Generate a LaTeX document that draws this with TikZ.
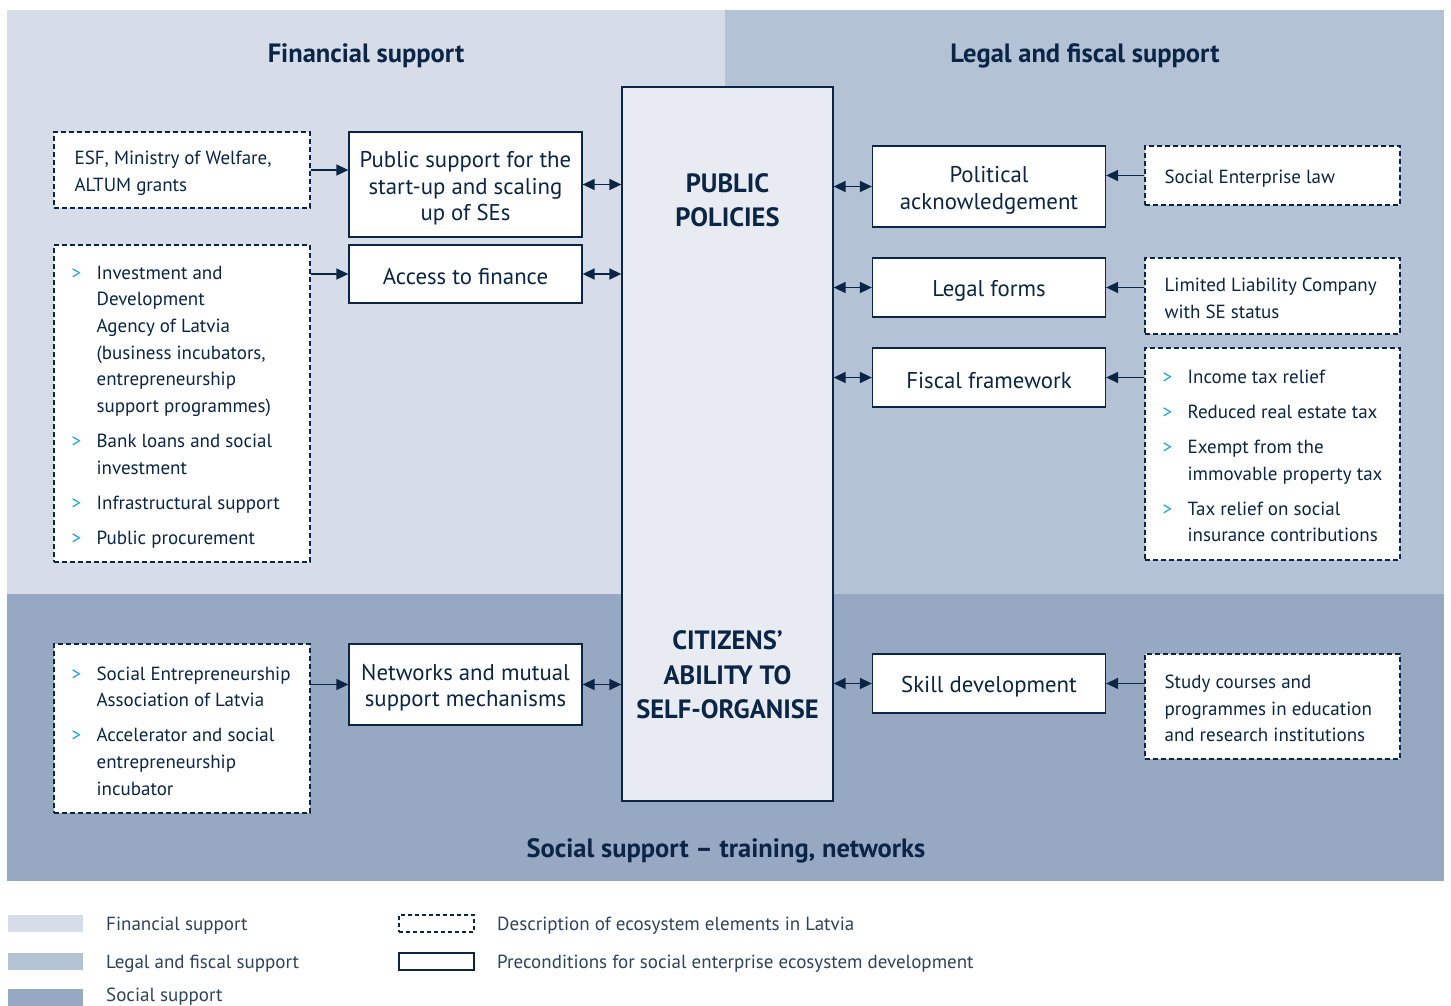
\documentclass[tikz,border=0pt]{standalone}
\usepackage{fontspec}
\setmainfont{PT Sans}
\usetikzlibrary{arrows.meta}
\definecolor{navy}{HTML}{0A2546}
\definecolor{finbg}{HTML}{D6DDE8}
\definecolor{legbg}{HTML}{B4C2D6}
\definecolor{socbg}{HTML}{97A8C3}
\definecolor{corefill}{HTML}{E8EBF1}
\definecolor{chev}{HTML}{1EA0DC}
\definecolor{legtext}{HTML}{2E425E}
\newcommand\boxfont{\fontsize{22.8}{26.6}\selectfont}
\newcommand\descfont{\fontsize{19}{26.6}\selectfont}
\newcommand\titlefont{\fontsize{26.5}{30}\selectfont\bfseries}
\newcommand\corefont{\fontsize{26.5}{34.5}\selectfont\bfseries}
\newcommand\bul{\makebox[25pt][l]{\textcolor{chev}{>}}}
\newcommand\ind{\hspace*{25pt}}
\begin{document}
\begin{tikzpicture}[x=1pt,y=-1pt,
  solidbox/.style={draw=navy, fill=white, line width=1.3pt, minimum width=233pt, inner sep=0pt},
  boxtext/.style={font=\boxfont, text=navy, align=center, inner sep=0pt},
  descframe/.style={draw=navy, fill=white, line width=1.2pt, dash pattern=on 5pt off 3pt, minimum width=256pt, inner sep=0pt},
  desctext/.style={font=\descfont, text=navy, align=left, anchor=west, inner sep=0pt},
  arr/.style={draw=navy, line width=1.5pt, -{Triangle[length=12pt,width=11pt]}},
  darr/.style={draw=navy, line width=1.5pt, {Triangle[length=12pt,width=11pt]}-{Triangle[length=12pt,width=11pt]}},
  title/.style={font=\titlefont, text=navy, inner sep=0pt},
  legtxt/.style={font=\descfont, text=legtext, anchor=west, inner sep=0pt}]
\useasboundingbox (0,0) rectangle (1451,1006);
% backgrounds
\fill[finbg] (7,10) rectangle (725,594);
\fill[legbg] (725,10) rectangle (1444,594);
\fill[socbg] (7,594) rectangle (1444,881);
% titles
\node[title] (tfin) at (366,56) {Financial support};
\node[title] (tleg) at (1085,56) {Legal and fiscal support};
\node[title] (tsoc) at (726,851) {Social support -- training, networks};
% core
\node[draw=navy, fill=corefill, line width=1.3pt, minimum width=211pt, minimum height=714pt, inner sep=0pt] (core) at (727.5,444) {};
\node[font=\corefont, text=navy, align=center] (pp) at (727.5,200) {PUBLIC\\POLICIES};
\node[font=\corefont, text=navy, align=center] (cit) at (727.5,675) {CITIZENS’\\ABILITY TO\\SELF-ORGANISE};
% solid boxes
\node[solidbox, minimum height=105pt] (pub) at (465.5,184.5) {};
\node[solidbox, minimum height=58pt] (acc) at (465.5,274) {};
\node[solidbox, minimum height=81pt] (net) at (465.5,684.5) {};
\node[solidbox, minimum height=81pt] (pol) at (989,186.5) {};
\node[solidbox, minimum height=59pt] (lf) at (989,287.5) {};
\node[solidbox, minimum height=59pt] (ff) at (989,377.5) {};
\node[solidbox, minimum height=59pt] (sk) at (989,683.5) {};
\node[boxtext] (pubt) at ([yshift=-4pt]pub.center) {Public support for the\\start-up and scaling\\up of SEs};
\node[boxtext] (acct) at ([yshift=-3pt]acc.center) {Access to finance};
\node[boxtext] (nett) at ([yshift=-3pt]net.center) {Networks and mutual\\support mechanisms};
\node[boxtext] (polt) at ([yshift=-4pt]pol.center) {Political\\acknowledgement};
\node[boxtext] (lft) at ([yshift=-3pt]lf.center) {Legal forms};
\node[boxtext] (fft) at ([yshift=-3pt]ff.center) {Fiscal framework};
\node[boxtext] (skt) at ([yshift=-3pt]sk.center) {Skill development};
% description boxes (frames)
\node[descframe, minimum height=76pt] (esf) at (182,170) {};
\node[descframe, minimum height=317pt] (idl) at (182,403.5) {};
\node[descframe, minimum height=169pt] (sea) at (182,728.5) {};
\node[descframe, minimum width=255pt, minimum height=59pt] (sel) at (1272.5,175.5) {};
\node[descframe, minimum width=255pt, minimum height=76pt] (llc) at (1272.5,296) {};
\node[descframe, minimum width=255pt, minimum height=212pt] (tax) at (1272.5,454) {};
\node[descframe, minimum width=255pt, minimum height=105pt] (stu) at (1272.5,706.5) {};
% description texts
\node[desctext] (esft) at ([xshift=21pt,yshift=-3pt]esf.west) {ESF, Ministry of Welfare,\\ALTUM grants};
\node[desctext] (idlt) at ([xshift=18pt,yshift=-3.5pt]idl.west) {\bul Investment and\\\ind Development\\\ind Agency of Latvia\\\ind (business incubators,\\\ind entrepreneurship\\\ind support programmes)\\[8.5pt]\bul Bank loans and social\\\ind investment\\[8.5pt]\bul Infrastructural support\\[8.5pt]\bul Public procurement};
\node[desctext] (seat) at ([xshift=18pt,yshift=-2.5pt]sea.west) {\bul Social Entrepreneurship\\\ind Association of Latvia\\[8.5pt]\bul Accelerator and social\\\ind entrepreneurship\\\ind incubator};
\node[desctext] (selt) at ([xshift=20pt,yshift=-3pt]sel.west) {Social Enterprise law};
\node[desctext] (llct) at ([xshift=20pt,yshift=-2.5pt]llc.west) {Limited Liability Company\\with SE status};
\node[desctext] (taxt) at ([xshift=18pt,yshift=-2pt]tax.west) {\bul Income tax relief\\[8.5pt]\bul Reduced real estate tax\\[8.5pt]\bul Exempt from the\\\ind immovable property tax\\[8.5pt]\bul Tax relief on social\\\ind insurance contributions};
\node[desctext] (stut) at ([xshift=20pt,yshift=-2pt]stu.west) {Study courses and\\programmes in education\\and research institutions};
% arrows
\draw[arr] (esf.east) -- (esf.east -| pub.west);
\draw[arr] (idl.east |- acc) -- (acc.west);
\draw[arr] (sea.east |- net) -- (net.west);
\draw[arr] (sel.west) -- (sel.west -| pol.east);
\draw[arr] (llc.west |- lf) -- (lf.east);
\draw[arr] (tax.west |- ff) -- (ff.east);
\draw[arr] (stu.west |- sk) -- (sk.east);
\draw[darr] (pub.east) -- (pub.east -| core.west);
\draw[darr] (acc.east) -- (acc.east -| core.west);
\draw[darr] (net.east) -- (net.east -| core.west);
\draw[darr] (core.east |- pol) -- (pol.west);
\draw[darr] (core.east |- lf) -- (lf.west);
\draw[darr] (core.east |- ff) -- (ff.west);
\draw[darr] (core.east |- sk) -- (sk.west);
% legend
\fill[finbg] (8,915) rectangle (83,932);
\fill[legbg] (8,953) rectangle (83,970);
\fill[socbg] (8,989) rectangle (83,1006);
\node[legtxt] (lfin) at (106,926) {Financial support};
\node[legtxt] (lleg) at (106,964) {Legal and fiscal support};
\node[legtxt] (lsoc) at (106,997) {Social support};
\node[draw=navy, line width=1.2pt, dash pattern=on 4pt off 3pt, minimum width=75pt, minimum height=17pt, inner sep=0pt] (kdash) at (436.5,923.5) {};
\node[draw=navy, line width=1.3pt, minimum width=75pt, minimum height=17pt, inner sep=0pt] (ksolid) at (436.5,961.5) {};
\node[legtxt] (ldash) at (497,926) {Description of ecosystem elements in Latvia};
\node[legtxt] (lsolid) at (497,964) {Preconditions for social enterprise ecosystem development};
\end{tikzpicture}
\end{document}
